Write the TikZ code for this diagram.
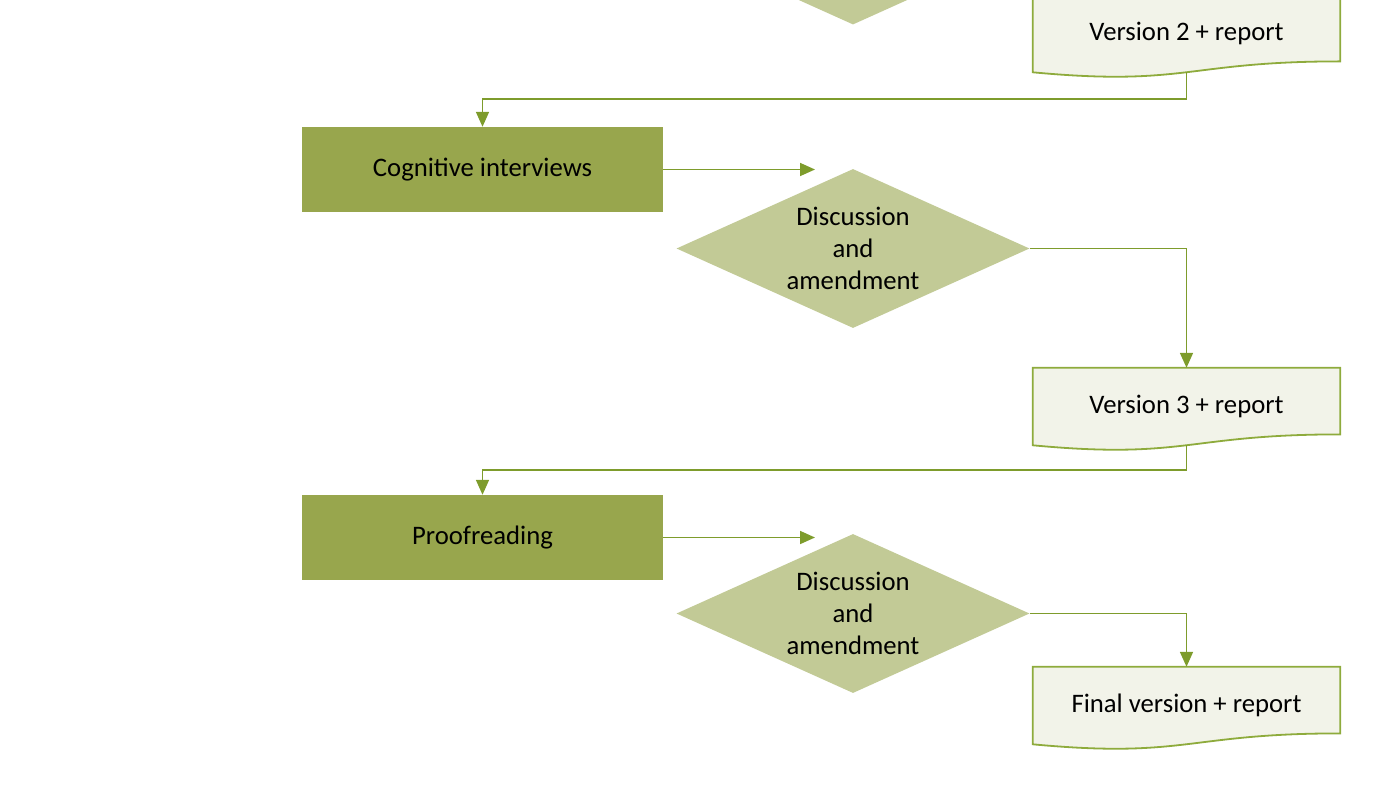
\documentclass[tikz,border=0pt]{standalone}
\usepackage{fontspec}
\setmainfont{Carlito}
\usetikzlibrary{shapes.geometric, arrows.meta, calc, backgrounds}
\definecolor{leaf}{HTML}{98A64D}
\definecolor{sage}{HTML}{C2CA96}
\definecolor{paper}{HTML}{F2F3E9}
\definecolor{rim}{HTML}{8EAB3C}
\definecolor{wire}{HTML}{7E9C2C}
\tikzset{
x=1pt, y=-1pt, % pixel-like units, y grows downwards
every node/.style={font=\fontsize{26.7}{32}\selectfont, text=black},
task/.style={rectangle, fill=leaf, minimum width=361pt, minimum height=85pt, inner sep=0pt}, % dark green step
check/.style={diamond, fill=sage, minimum width=353pt, minimum height=159pt, aspect=2.2, inner sep=0pt, align=center}, % decision
docbox/.style={rectangle, minimum width=307pt, minimum height=77pt, inner sep=0pt}, % text holder of a document
flow/.style={draw=wire, line width=1.7pt, -{Triangle[length=15pt,width=13pt]}},
}
% wavy document outline behind a docbox node
\newcommand{\docshape}[1]{%
  \filldraw[fill=paper, draw=rim, line width=1.8pt]
    (#1.north west) -- (#1.north east) -- ($(#1.north east)+(0,66.6)$)
    .. controls ($(#1.north)+(0,66.6)$) and ($(#1.north)+(0,91.9)$) .. ($(#1.north west)+(0,77.5)$) -- cycle;}

\begin{document}
\begin{tikzpicture}
                \path[use as bounding box, clip] (0,0) rectangle (1400,786);
                \node[check] (d1) at (853,-55) {};
                \node[docbox] (v2) at (1186.5,33.5) {\raisebox{-2pt}{Version 2 + report}};
                \node[task] (r1) at (482.5,169.5) {Cognitive interviews};
                \node[check] (d2) at (853,248.5) {Discussion\\and\\amendment};
                \node[docbox] (v3) at (1186.5,406.5) {\raisebox{-2pt}{Version 3 + report}};
                \node[task] (r2) at (482.5,537.5) {Proofreading};
                \node[check] (d3) at (853,613.5) {Discussion\\and\\amendment};
                \node[docbox] (fin) at (1186.5,705.5) {\raisebox{-2pt}{Final version + report}};
                \coordinate (e1) at (815,169.5);
                \coordinate (e2) at (815,537.5);
                \begin{scope}[on background layer]
                    \docshape{v2}
                    \docshape{v3}
                    \docshape{fin}
                \end{scope}
                \draw[flow] (v2.south) |- ($(r1.north)+(0,-28)$) -- (r1.north);
                \draw[flow] (r1.east) -- (e1);
                \draw[flow] (d2.east) -| (v3.north);
                \draw[flow] (v3.south) |- ($(r2.north)+(0,-25)$) -- (r2.north);
                \draw[flow] (r2.east) -- (e2);
                \draw[flow] (d3.east) -| (fin.north);
\end{tikzpicture}
\end{document}
